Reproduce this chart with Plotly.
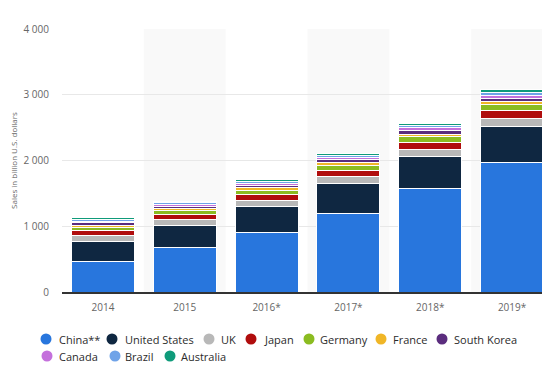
import plotly.graph_objects as go

years = ["2014", "2015", "2016*", "2017*", "2018*", "2019*"]
china = [470, 672, 908, 1197, 1567, 1973]
united_states = [305, 340, 390, 448, 490, 540]
uk = [78, 85, 95, 108, 112, 120]
japan = [75, 80, 88, 98, 108, 122]
germany = [58, 62, 68, 74, 82, 90]
france = [30, 32, 36, 40, 44, 48]
south_korea = [34, 36, 40, 45, 50, 55]
canada = [28, 30, 32, 38, 42, 48]
brazil = [25, 22, 28, 32, 36, 40]
australia = [23, 22, 24, 30, 35, 38]

series = [
    ("China**", china, "#2876dd"),
    ("United States", united_states, "#0f2741"),
    ("UK", uk, "#b8b8b8"),
    ("Japan", japan, "#b00d0d"),
    ("Germany", germany, "#8bbc21"),
    ("France", france, "#f0b627"),
    ("South Korea", south_korea, "#5b2d7e"),
    ("Canada", canada, "#c470dc"),
    ("Brazil", brazil, "#6fa3e8"),
    ("Australia", australia, "#0f9b7a"),
]

# page has an 8px body margin -> compensate in layout
W, H = 550, 380
L, R, T, B = 54, 5, 21, 96
PW, PH = W - L - R, H - T - B
OFF = 8

fig = go.Figure()
for name, vals, col in series:
    fig.add_trace(go.Bar(x=years, y=vals, name=name,
                         marker=dict(color=col, line=dict(color="white", width=1)),
                         showlegend=False))

shapes = []
for i in (1, 3, 5):
    shapes.append(dict(type="rect", xref="x", yref="paper", x0=i - 0.5, x1=i + 0.5, y0=0, y1=1,
                       fillcolor="#f9f9f9", line=dict(width=0), layer="below"))

# custom legend (circle markers + labels), laid out in two rows as in the reference
legend_rows = [
    [(46, 58), (112, 124), (209, 220), (251, 263), (309, 319), (381, 392), (442, 453)],
    [(47, 58), (115, 124), (170, 180)],
]
row_y = [339, 356]
annotations = []
k = 0
for r, row in enumerate(legend_rows):
    py = (H - B - (row_y[r] - OFF)) / PH
    for cx, tx in row:
        name, _, col = series[k]
        k += 1
        pcx = ((cx - OFF) - L) / PW
        ptx = ((tx - OFF) - L) / PW
        shapes.append(dict(type="circle", xref="paper", yref="paper",
                           xsizemode="pixel", ysizemode="pixel",
                           xanchor=pcx, yanchor=py, x0=-5.5, x1=5.5, y0=-5.5, y1=5.5,
                           fillcolor=col, line=dict(width=0), layer="above"))
        annotations.append(dict(xref="paper", yref="paper", x=ptx, y=py, text=name,
                                showarrow=False, xanchor="left", yanchor="middle",
                                font=dict(size=11, color="#2b2b2b", family="Open Sans"),
                                borderpad=0))

fig.update_layout(
    width=W, height=H,
    barmode="stack", bargap=0.23,
    plot_bgcolor="white", paper_bgcolor="white",
    margin=dict(l=L, r=R, t=T, b=B, autoexpand=False),
    separators=". ",
    font=dict(family="Open Sans", size=10, color="#666"),
    shapes=shapes,
    annotations=annotations,
    showlegend=False,
    xaxis=dict(showgrid=False, showline=True, linecolor="#333", linewidth=1.5,
               tickfont=dict(size=10, color="#666"), ticks="", range=[-0.5, 5.5],
               ticklabelstandoff=5),
    yaxis=dict(range=[0, 4000], tickvals=[0, 1000, 2000, 3000, 4000], tickformat=",d",
               showgrid=True, gridcolor="#e8e8e8", gridwidth=1, zeroline=False,
               tickfont=dict(size=10, color="#666"), ticklabelstandoff=12,
               title=dict(text="Sales in billion U.S. dollars", font=dict(size=8, color="#666"), standoff=8)),
)

fig.write_html("out.html")
